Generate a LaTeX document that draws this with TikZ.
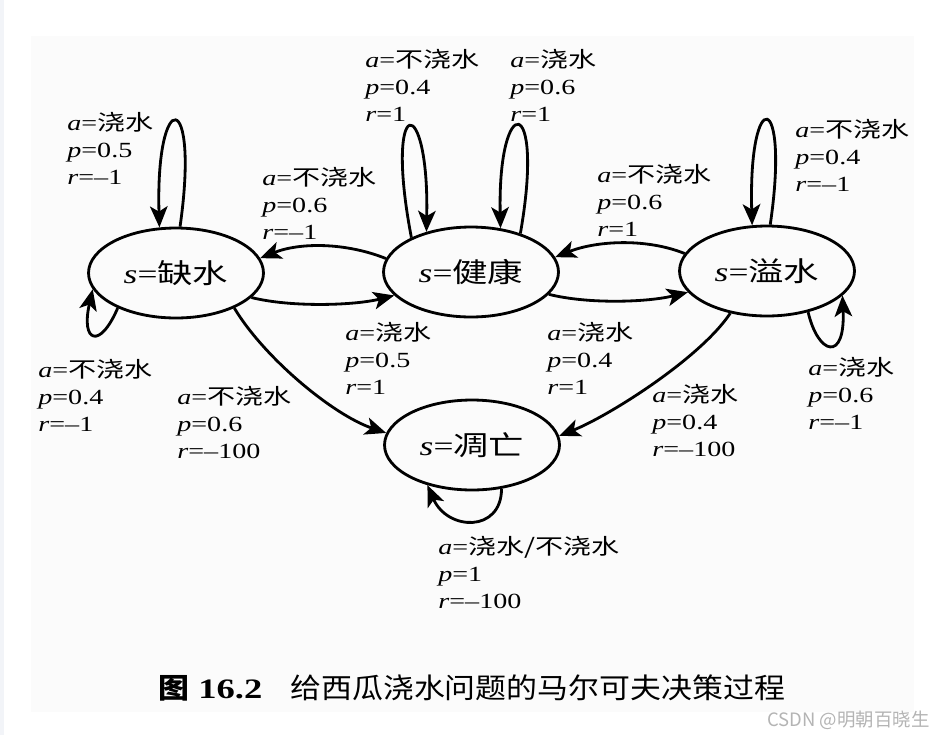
\documentclass[tikz,border=0pt]{standalone}
\usepackage{fontspec}
\setmainfont{Liberation Serif}[FakeStretch=1.3]
\newfontfamily\zhfont{Noto Sans CJK SC}[FakeStretch=1.3]
\newfontfamily\zhcap{Noto Sans CJK SC}[FakeStretch=1.1]
\newfontfamily\marksans{Noto Sans CJK SC}
\usetikzlibrary{arrows.meta,shapes.geometric}
\definecolor{pagegray}{HTML}{FBFBFB}
\definecolor{edgeblue}{HTML}{F2F4F8}
\definecolor{markgray}{HTML}{B4B4B4}
\newcommand{\statetext}[1]{\textit{s}={\zhfont #1}}
\newcommand{\mdplabel}[3]{\textit{a}={\zhfont #1}\\\textit{p}=#2\\\textit{r}=#3}

\begin{document}
\begin{tikzpicture}[x=0.02cm,y=-0.02cm,
  state/.style={ellipse,draw,line width=1.6pt,minimum width=3.5cm,minimum height=1.8cm,inner sep=0pt,font=\fontsize{15.5}{18}\selectfont},
  arr/.style={line width=1.6pt,-{Stealth[length=12pt,width=10pt,inset=3pt]}},
  lbl/.style={anchor=north west,align=left,inner sep=0pt,font=\fontsize{12.3}{15.3}\selectfont}]
  \fill[white] (0,0) rectangle (934,735);
  \fill[edgeblue] (0,0) rectangle (4,735);
  \fill[pagegray] (31,36) rectangle (914,712);

  \node[state] (dry) at (176,273) {\statetext{缺水}};
  \node[state] (healthy) at (471,272) {\statetext{健康}};
  \node[state] (flood) at (767,271) {\statetext{溢水}};
  \node[state] (dead) at (472,445) {\statetext{凋亡}};

  \draw[arr] (dry.85) .. controls +(20,-140) and +(-4,-141) .. (dry.110);
  \draw[arr] (dry.211) .. controls +(-18,42) and +(-12,53) .. (dry.191);
  \draw[arr] (dry.-18) .. controls +(40,10) and +(-40,10) .. (healthy.-163);
  \draw[arr] (healthy.171) .. controls +(-40,-16) and +(40,-16) .. (dry.10);
  \draw[arr] (healthy.150) .. controls +(-28,-146) and +(3,-141) .. (healthy.138);
  \draw[arr] (healthy.38) .. controls +(25,-142) and +(-3,-137) .. (healthy.56);
  \draw[arr] (healthy.-16) .. controls +(40,10) and +(-40,10) .. (flood.-165);
  \draw[arr] (flood.168) .. controls +(-40,-16) and +(40,-16) .. (healthy.10);
  \draw[arr] (flood.86) .. controls +(20,-136) and +(-4,-141) .. (flood.108);
  \draw[arr] (flood.-45) .. controls +(10,43) and +(3,67) .. (flood.-18);
  \draw[arr] (dead.-56) .. controls +(0,44) and +(20,46) .. (dead.-138);
  \draw[arr] (dry.-31) .. controls +(30,50) and +(-53,-18) .. (dead.172);
  \draw[arr] (flood.-131) .. controls +(-30,45) and +(50,-20) .. (dead.6);

  \node[lbl] (drystay) at (67,112) {\mdplabel{浇水}{0.5}{–1}};
  \node[lbl] (drydry) at (38,359) {\mdplabel{不浇水}{0.4}{–1}};
  \node[lbl] (drygood) at (345,322) {\mdplabel{浇水}{0.5}{1}};
  \node[lbl] (gooddry) at (262,167) {\mdplabel{不浇水}{0.6}{–1}};
  \node[lbl] (goodstayA) at (365,49) {\mdplabel{不浇水}{0.4}{1}};
  \node[lbl] (goodstayB) at (510,49) {\mdplabel{浇水}{0.6}{1}};
  \node[lbl] (goodwet) at (547,322) {\mdplabel{浇水}{0.4}{1}};
  \node[lbl] (wetgood) at (597,164) {\mdplabel{不浇水}{0.6}{1}};
  \node[lbl] (wetstayA) at (795,119) {\mdplabel{不浇水}{0.4}{–1}};
  \node[lbl] (wetstayB) at (808,357) {\mdplabel{浇水}{0.6}{–1}};
  \node[lbl] (deadstay) at (438,536) {\mdplabel{浇水/不浇水}{1}{–100}};
  \node[lbl] (drydead) at (177,386) {\mdplabel{不浇水}{0.6}{–100}};
  \node[lbl] (wetdead) at (652,384) {\mdplabel{浇水}{0.4}{–100}};

  \node[anchor=west,inner sep=0pt,font=\fontsize{16}{18}\selectfont\bfseries] (fignum) at (158,688) {{\zhcap 图} 16.2};
  \node[anchor=west,inner sep=0pt,font=\fontsize{16}{18}\selectfont\zhcap] (figcap) at (290,688) {给西瓜浇水问题的马尔可夫决策过程};
  \node[anchor=east,inner sep=0pt,text=markgray,font=\fontsize{10.5}{12}\selectfont\marksans] (mark) at (930,720) {CSDN @明朝百晓生};
\end{tikzpicture}
\end{document}
